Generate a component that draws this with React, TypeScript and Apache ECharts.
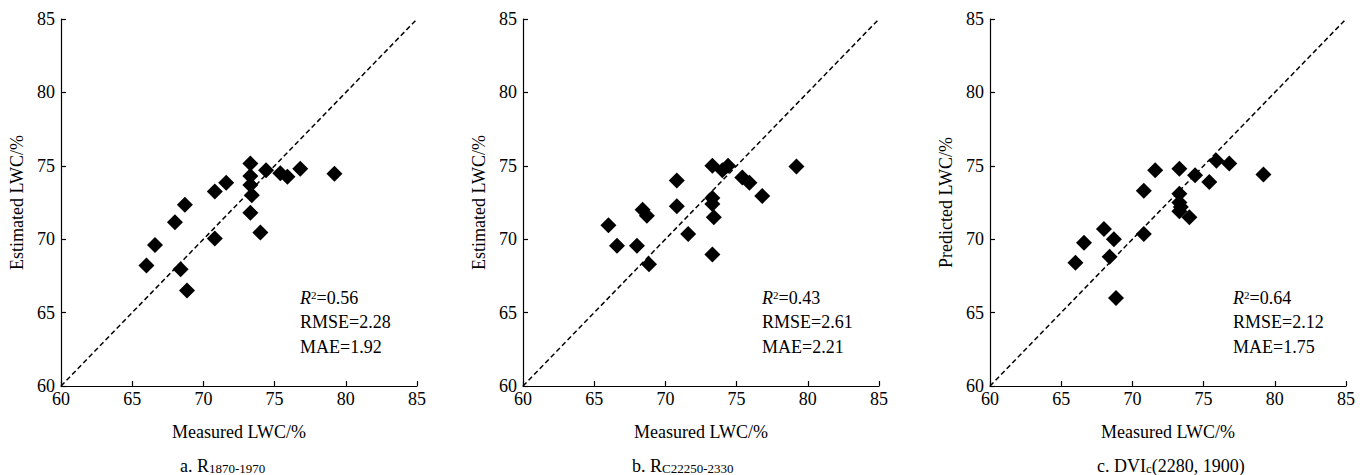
import React, { useEffect, useRef } from 'react';
import * as echarts from 'echarts';

const measured = [66.0, 66.6, 68.0, 68.4, 68.7, 68.85, 70.8, 70.8, 71.6, 73.3, 73.3, 73.3, 73.3, 73.4, 74.0, 74.4, 75.4, 75.9, 76.8, 79.2];
const estimatedA = [68.2, 69.6, 71.15, 67.95, 72.35, 66.5, 73.25, 70.05, 73.85, 75.15, 74.3, 73.7, 71.8, 73.0, 70.45, 74.7, 74.5, 74.25, 74.8, 74.45];
const estimatedB = [70.95, 69.55, 69.55, 72.0, 71.6, 68.3, 74.0, 72.25, 70.35, 75.0, 72.8, 72.4, 68.95, 71.5, 74.7, 75.0, 74.2, 73.85, 72.95, 74.95];
const predictedC = [68.4, 69.75, 70.7, 68.8, 70.0, 66.0, 73.3, 70.35, 74.7, 74.8, 73.1, 72.5, 71.9, 72.2, 71.5, 74.35, 73.9, 75.35, 75.15, 74.4];
const diagonal = [[60, 60], [85, 85]];

const yTitles = ['Estimated LWC/%', 'Estimated LWC/%', 'Predicted LWC/%'];
const xTitle = 'Measured LWC/%';
const r2Values = ['0.56', '0.43', '0.64'];
const rmseValues = ['2.28', '2.61', '2.12'];
const maeValues = ['1.92', '2.21', '1.75'];
const captions = ['a. R{sub|1870-1970}', 'b. R{sub|C22250-2330}', 'c. DVI{sub|c}(2280, 1900)'];

const FONT = "'Liberation Serif', 'Times New Roman', serif";

const gridLefts = [61, 523, 990];
const statLefts = [300, 762, 1233];
const captionLefts = [180, 632, 1097];

export default function App() {
  const ref = useRef<HTMLDivElement>(null);
  useEffect(() => {
    if (!ref.current) return;
    const chart = echarts.init(ref.current, undefined, { renderer: 'svg' });
    const ySets = [estimatedA, estimatedB, predictedC];
    const grids = gridLefts.map((l) => ({ left: l, top: 19, width: 356, height: 367 }));
    const axisCommon = {
      type: 'value',
      min: 60,
      max: 85,
      interval: 5,
      axisLine: { show: true, onZero: false, lineStyle: { color: '#000', width: 1.2 } },
      axisTick: { show: true, inside: true, length: 5, lineStyle: { color: '#000', width: 1.2 } },
      splitLine: { show: false },
      nameLocation: 'middle',
      nameTextStyle: { color: '#000', fontSize: 18, fontFamily: FONT },
    };
    const xAxes = gridLefts.map((_, i) => ({
      ...axisCommon,
      gridIndex: i,
      name: xTitle,
      nameGap: 37,
      axisLabel: { color: '#000', fontSize: 18, fontFamily: FONT, margin: 4 },
    }));
    const yAxes = gridLefts.map((_, i) => ({
      ...axisCommon,
      gridIndex: i,
      name: yTitles[i],
      nameGap: 35,
      axisLabel: { color: '#000', fontSize: 18, fontFamily: FONT, margin: 6 },
    }));
    const series: any[] = [];
    ySets.forEach((ys, i) => {
      series.push({
        type: 'line',
        xAxisIndex: i,
        yAxisIndex: i,
        data: diagonal,
        symbol: 'none',
        lineStyle: { color: '#000', width: 1.5, type: [5, 3] },
        silent: true,
      });
      series.push({
        type: 'scatter',
        xAxisIndex: i,
        yAxisIndex: i,
        data: measured.map((m, k) => [m, ys[k]]),
        symbol: 'diamond',
        symbolSize: 16,
        itemStyle: { color: '#000', opacity: 1 },
      });
    });
    const graphics: any[] = [];
    statLefts.forEach((x, i) => {
      graphics.push({
        type: 'text',
        x,
        y: 298,
        style: {
          text: '{i|R}{sup|2}{n|=' + r2Values[i] + '}',
          textVerticalAlign: 'middle',
          fill: '#000',
          rich: {
            i: { fontSize: 18, fontFamily: FONT, fontStyle: 'italic', lineHeight: 18, fill: '#000' },
            sup: { fontSize: 11, fontFamily: FONT, lineHeight: 11, verticalAlign: 'top', fill: '#000' },
            n: { fontSize: 18, fontFamily: FONT, lineHeight: 18, fill: '#000' },
          },
        },
      });
      graphics.push({
        type: 'text', x, y: 322,
        style: { text: 'RMSE=' + rmseValues[i], font: `18px ${FONT}`, fill: '#000', textVerticalAlign: 'middle' },
      });
      graphics.push({
        type: 'text', x, y: 347,
        style: { text: 'MAE=' + maeValues[i], font: `18px ${FONT}`, fill: '#000', textVerticalAlign: 'middle' },
      });
    });
    captionLefts.forEach((x, i) => {
      graphics.push({
        type: 'text',
        x,
        y: 466,
        style: {
          text: captions[i],
          fontSize: 18,
          fontFamily: FONT,
          fill: '#000',
          textVerticalAlign: 'middle',
          rich: {
            sub: { fontSize: 13, fontFamily: FONT, lineHeight: 13, padding: [8, 0, 0, 0], verticalAlign: 'bottom', fill: '#000' },
          },
        },
      });
    });
    chart.setOption({
      animation: false,
      backgroundColor: '#fff',
      grid: grids,
      xAxis: xAxes,
      yAxis: yAxes,
      series,
      graphic: graphics,
    } as any);
    return () => chart.dispose();
  }, []);
  return <div ref={ref} style={{ position: 'absolute', left: 0, top: 0, width: 1370, height: 475 }} />;
}
